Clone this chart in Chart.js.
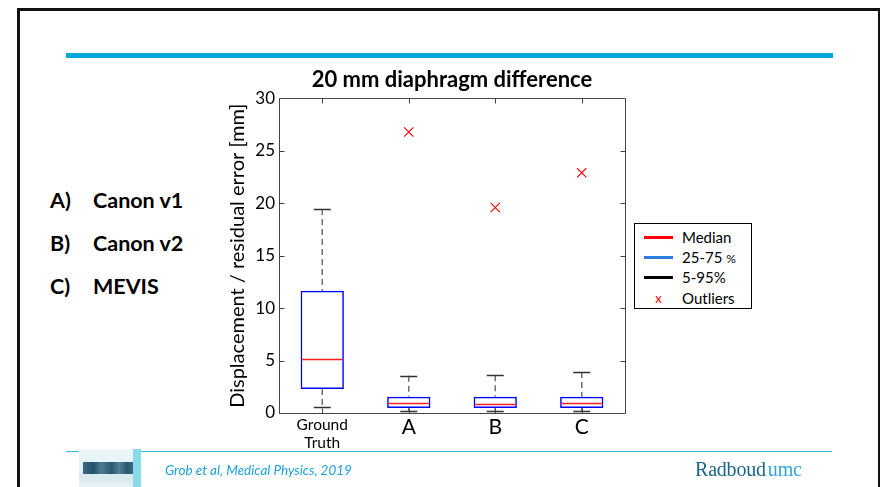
<!DOCTYPE html>
<html>
<head>
<meta charset="utf-8">
<script src="https://cdn.jsdelivr.net/npm/chart.js@4.4.1/dist/chart.umd.min.js"></script>
<style>
  html, body { margin:0; padding:0; background:#fff; }
  body { width:881px; height:487px; position:relative; overflow:hidden; font-family:Lato, "Open Sans", sans-serif; }
  .frame { position:absolute; left:17px; top:8px; width:858px; height:600px; border-left:3px solid #111; border-top:3px solid #111; border-right:2px solid #111; }
  .topbar { position:absolute; left:66px; top:53px; width:767px; height:5px; background:#00a9da; }
  .footline { position:absolute; left:66px; top:451px; width:766px; height:1px; background:#3db5e2; }
  .item { position:absolute; left:50px; font-weight:bold; font-size:21.5px; color:#000; line-height:26px; }
  .item span { position:absolute; left:43px; white-space:nowrap; }
  #chartwrap { position:absolute; left:197px; top:60px; width:504px; height:400px; }
  .legend { position:absolute; left:634px; top:223px; width:116px; height:84px; border:1px solid #000; background:#fff; font-size:15px; color:#000; }
  .legend .row { position:absolute; left:0; height:20px; line-height:20px; width:116px; }
  .legend .sample { position:absolute; left:9px; top:9px; width:29px; height:3px; }
  .legend .lbl { position:absolute; left:47px; top:0; white-space:nowrap; }
  .legend .xmark { position:absolute; left:17px; top:0; width:13px; text-align:center; color:#ff0000; font-size:13px; }
  .cite { position:absolute; left:165px; top:462px; font-style:italic; font-size:13.5px; color:#1da2d7; white-space:nowrap; }
  .logo { position:absolute; left:79px; top:449px; width:62px; height:38px; background:linear-gradient(#eef8fa, #e6f4f7 35%, #d8e8ee 75%, #e8f3f6); overflow:hidden; }
  .logo .band { position:absolute; left:4px; top:13px; width:52px; height:12px; background:linear-gradient(90deg,#3b6a80 0%,#254f66 20%,#4a7c92 35%,#2d586e 55%,#4f8198 70%,#2c566c 85%,#3f7088 100%); }
  .logo .strip { position:absolute; right:0; top:0; width:8px; height:38px; background:#8adbe9; }
  .brand { position:absolute; left:695px; top:458px; font-family:"Liberation Serif", serif; font-size:20px; white-space:nowrap; letter-spacing:-0.2px; }
  .brand .a { color:#1b6587; }
  .brand .b { color:#2ea6d6; margin-left:2px; }
</style>
</head>
<body>
<div class="frame"></div>
<div class="topbar"></div>

<div class="item" style="top:187px;">A)<span>Canon v1</span></div>
<div class="item" style="top:230px;">B)<span>Canon v2</span></div>
<div class="item" style="top:273px;">C)<span>MEVIS</span></div>

<div id="chartwrap"><canvas id="c" width="504" height="400"></canvas></div>

<div class="legend">
  <div class="row" style="top:3px;"><div class="sample" style="background:#ff0000;"></div><div class="lbl">Median</div></div>
  <div class="row" style="top:23px;"><div class="sample" style="background:#2a7ee0;"></div><div class="lbl">25-75 <span style="font-size:12px">%</span></div></div>
  <div class="row" style="top:43px;"><div class="sample" style="background:#000;"></div><div class="lbl">5-95%</div></div>
  <div class="row" style="top:64px;"><div class="xmark">x</div><div class="lbl">Outliers</div></div>
</div>

<div class="footline"></div>
<div class="logo"><div class="band"></div><div class="strip"></div></div>
<div class="cite">Grob et al, Medical Physics, 2019</div>
<div class="brand"><span class="a">Radboud</span><span class="b">umc</span></div>

<script>
// ---- data ----
const categories = [['Ground', 'Truth'], 'A', 'B', 'C'];
const whiskerLow  = [0.6, 0.19, 0.19, 0.19];
const q1          = [2.28, 0.48, 0.48, 0.48];
const median      = [5.14, 0.92, 0.87, 0.95];
const q3          = [11.65, 1.55, 1.55, 1.55];
const whiskerHigh = [19.45, 3.55, 3.6, 3.9];
const outliers    = [null, 26.8, 19.6, 22.9];
const yTickValues = [0, 5, 10, 15, 20, 25, 30];

const boxPlugin = {
  id: 'boxPlugin',
  afterDatasetsDraw(chart) {
    const { ctx, scales: { x, y } } = chart;
    const bars = chart.getDatasetMeta(0).data;
    ctx.save();
    categories.forEach((c, i) => {
      const cx = x.getPixelForValue(i);
      const bw = bars[i].width;
      const capHalf = 8.5;
      ctx.strokeStyle = '#707070';
      ctx.lineWidth = 1.5;
      ctx.setLineDash([6, 4]);
      ctx.beginPath();
      ctx.moveTo(cx, y.getPixelForValue(whiskerHigh[i]));
      ctx.lineTo(cx, y.getPixelForValue(q3[i]));
      ctx.moveTo(cx, y.getPixelForValue(q1[i]));
      ctx.lineTo(cx, y.getPixelForValue(whiskerLow[i]));
      ctx.stroke();
      ctx.setLineDash([]);
      ctx.strokeStyle = '#333';
      ctx.lineWidth = 1.5;
      ctx.beginPath();
      [whiskerHigh[i], whiskerLow[i]].forEach(v => {
        const py = Math.round(y.getPixelForValue(v)) + 0.5;
        ctx.moveTo(cx - capHalf, py);
        ctx.lineTo(cx + capHalf, py);
      });
      ctx.stroke();
      ctx.strokeStyle = '#ff2020';
      ctx.lineWidth = 1.3;
      ctx.beginPath();
      const my = Math.round(y.getPixelForValue(median[i])) + 0.5;
      ctx.moveTo(cx - bw / 2 + 1.5, my);
      ctx.lineTo(cx + bw / 2 - 1.5, my);
      ctx.stroke();
    });
    ctx.restore();
  },
  afterDraw(chart) {
    const { ctx, chartArea: a, scales: { x, y } } = chart;
    ctx.save();
    ctx.strokeStyle = '#444';
    ctx.lineWidth = 1;
    const L = Math.round(a.left) + 0.5, R = Math.round(a.right) + 0.5;
    const T = Math.round(a.top) + 0.5, B = Math.round(a.bottom) + 0.5;
    ctx.beginPath();
    ctx.rect(L, T, R - L, B - T);
    const tl = 5;
    y.ticks.forEach(t => {
      const py = Math.round(y.getPixelForValue(t.value)) + 0.5;
      ctx.moveTo(L, py); ctx.lineTo(L + tl, py);
      ctx.moveTo(R, py); ctx.lineTo(R - tl, py);
    });
    categories.forEach((c, i) => {
      const px = Math.round(x.getPixelForValue(i)) + 0.5;
      ctx.moveTo(px, T); ctx.lineTo(px, T + tl);
      ctx.moveTo(px, B); ctx.lineTo(px, B - tl);
    });
    ctx.stroke();
    ctx.restore();
  }
};

new Chart(document.getElementById('c'), {
  type: 'bar',
  data: {
    labels: categories,
    datasets: [
      {
        type: 'bar',
        label: '25-75 %',
        data: q1.map((v, i) => [v, q3[i]]),
        backgroundColor: 'rgba(255,255,255,0)',
        borderColor: '#0000ff',
        borderWidth: 1.5,
        borderSkipped: false,
        barPercentage: 0.5,
        categoryPercentage: 1,
        order: 2
      },
      {
        type: 'line',
        label: 'Outliers',
        data: outliers,
        showLine: false,
        pointStyle: 'crossRot',
        pointRadius: 6.5,
        pointBorderWidth: 1.1,
        borderColor: '#ff0000',
        backgroundColor: '#ff0000',
        order: 1
      }
    ]
  },
  options: {
    responsive: false,
    animation: false,
    layout: { padding: { top: 0, left: 0, right: 76, bottom: 0 } },
    plugins: {
      legend: { display: false },
      tooltip: { enabled: false },
      title: {
        display: true,
        fullSize: false,
        text: '20 mm diaphragm difference',
        color: '#000',
        font: { family: 'Lato', size: 22, weight: 'bold', lineHeight: 1.2 },
        padding: { top: 7, bottom: 5 }
      }
    },
    scales: {
      x: {
        grid: { display: false, drawTicks: false },
        border: { display: false },
        ticks: {
          color: '#000',
          padding: 3,
          maxRotation: 0,
          autoSkip: false,
          font: (ctx) => ctx.index === 0 ? { family: 'Lato', size: 15.5, lineHeight: 1.15 } : { family: 'Lato', size: 21, lineHeight: 1.1 }
        },
        afterFit: (s) => { s.height = 47; }
      },
      y: {
        min: yTickValues[0],
        max: yTickValues[yTickValues.length - 1],
        grid: { display: false, drawTicks: false },
        border: { display: false },
        afterBuildTicks: (s) => { s.ticks = yTickValues.map(v => ({ value: v })); },
        ticks: { color: '#000', padding: 4, font: { family: 'Lato', size: 17 } },
        title: {
          display: true,
          text: 'Displacement / residual error [mm]',
          color: '#000',
          font: { family: 'Lato', size: 20, lineHeight: 1.2 },
          padding: { top: 29, bottom: 0 }
        },
        afterFit: (s) => { s.width = 82; }
      }
    }
  },
  plugins: [boxPlugin]
});
</script>
</body>
</html>
